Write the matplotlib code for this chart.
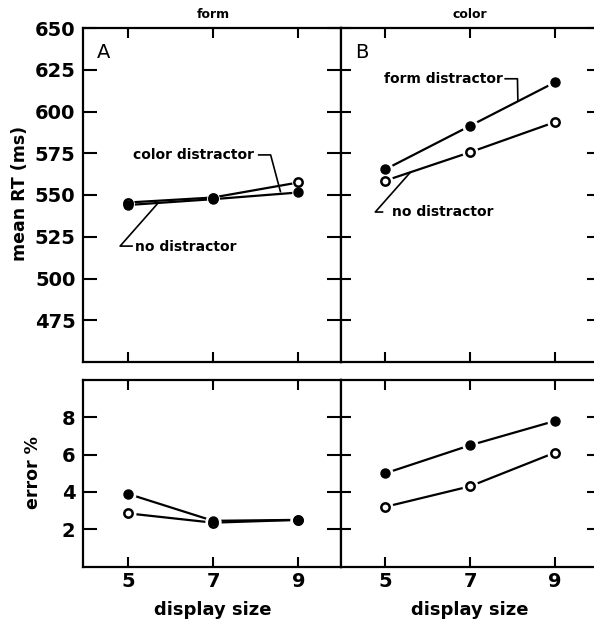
import matplotlib
matplotlib.use("Agg")
import matplotlib.pyplot as plt

plt.rcParams['font.family'] = ['DejaVu Sans']
plt.rcParams['font.weight'] = 'bold'

# ---- data ----
display_size = [5, 7, 9]
# Panel A (form target): RT
rt_form_none = [545.5, 548.5, 557.5]
rt_form_color = [544.0, 547.5, 551.5]
# Panel B (color target): RT
rt_color_none = [558.6, 575.6, 593.6]
rt_color_form = [565.4, 591.4, 617.4]
# Errors
err_form_none = [2.85, 2.35, 2.5]
err_form_color = [3.9, 2.45, 2.5]
err_color_none = [3.2, 4.3, 6.1]
err_color_form = [5.0, 6.5, 7.8]

rt_ticks = [475, 500, 525, 550, 575, 600, 625, 650]
err_ticks = [2, 4, 6, 8]
col_titles = ["form", "color"]
panel_letters = ["A", "B"]

W, H = 594, 625
fig = plt.figure(figsize=(W / 100, H / 100), dpi=100)

def fx(px):
    return px / W

def fy(py):
    return 1 - py / H

axA = fig.add_axes([fx(83), fy(362), fx(258), (362 - 28) / H])
axB = fig.add_axes([fx(341), fy(362), fx(256), (362 - 28) / H])
axC = fig.add_axes([fx(83), fy(566.5), fx(258), (566.5 - 380) / H])
axD = fig.add_axes([fx(341), fy(566.5), fx(256), (566.5 - 380) / H])

def series(ax, y, filled, gap=4.5):
    ax.plot(display_size, y, color='black', lw=1.6, zorder=2, solid_capstyle='butt')
    ax.plot(display_size, y, ls='none', marker='o', ms=6 + gap, mfc='white',
            mec='white', zorder=3)
    if filled:
        ax.plot(display_size, y, ls='none', marker='o', ms=6.5, mfc='black',
                mec='black', zorder=5)
    else:
        ax.plot(display_size, y, ls='none', marker='o', ms=6, mfc='white',
                mec='black', mew=1.8, zorder=4)

for ax in (axA, axB, axC, axD):
    ax.set_xlim(3.95, 10.0)
    ax.set_xticks(display_size)
    for s in ax.spines.values():
        s.set_linewidth(1.6)
    ax.tick_params(direction='in', top=True, right=True, length=7.5, width=1.5,
                   labelsize=14, pad=5.5)

for ax in (axA, axB):
    ax.set_ylim(450, 650)
    ax.set_yticks(rt_ticks)
    ax.tick_params(labelbottom=False)
for ax in (axC, axD):
    ax.set_ylim(0, 10)
    ax.set_yticks(err_ticks)
    ax.tick_params(axis='x', pad=4)
for ax in (axB, axD):
    ax.tick_params(labelleft=False)
for ax in (axA, axC):
    ax.tick_params(axis='y', which='major', left=True, length=10)
    ax.tick_params(axis='y', right=True)

# RT panels
series(axA, rt_form_none, False, gap=2)
series(axA, rt_form_color, True, gap=2)
series(axB, rt_color_none, False)
series(axB, rt_color_form, True)
# Error panels
series(axC, err_form_none, False)
series(axC, err_form_color, True)
series(axD, err_color_none, False)
series(axD, err_color_form, True)

# column titles and panel letters
for ax, t, L in ((axA, col_titles[0], panel_letters[0]), (axB, col_titles[1], panel_letters[1])):
    ax.text(7, 1.039, t, transform=ax.get_xaxis_transform(), ha='center',
            va='center', fontsize=9, fontweight='bold')
    ax.text(0.055, 0.955, L, transform=ax.transAxes, ha='left', va='top',
            fontsize=14, fontweight='normal')

# annotations panel A
lw_l = 1.2
axA.text(5.13, 574, "color distractor", fontsize=10, fontweight='bold',
         ha='left', va='center')
axA.plot([8.07, 8.35, 8.58], [574, 574, 552], color='black', lw=lw_l, zorder=2)
axA.text(5.17, 519, "no distractor", fontsize=10, fontweight='bold',
         ha='left', va='center')
axA.plot([5.69, 4.82, 5.10], [544.6, 519.4, 519.4], color='black', lw=lw_l, zorder=2)

# annotations panel B
axB.text(7.78, 619.6, "form distractor", fontsize=10, fontweight='bold',
         ha='right', va='center')
axB.plot([7.83, 8.12, 8.13], [619.6, 619.6, 606.3], color='black', lw=lw_l, zorder=2)
axB.text(5.16, 539.8, "no distractor", fontsize=10, fontweight='bold',
         ha='left', va='center')
axB.plot([5.59, 4.76, 4.93], [563.6, 539.8, 539.8], color='black', lw=lw_l, zorder=2)

# axis labels
fig.text(fx(20), fy(193), "mean RT (ms)", rotation=90, ha='center', va='center',
         fontsize=12.5, fontweight='bold')
fig.text(fx(32.5), fy(473), "error %", rotation=90, ha='center', va='center',
         fontsize=12.5, fontweight='bold')
for ax in (axC, axD):
    ax.text(7, -0.235, "display size", transform=ax.get_xaxis_transform(),
            ha='center', va='center', fontsize=13, fontweight='bold')

fig.savefig("out.png", dpi=100)
